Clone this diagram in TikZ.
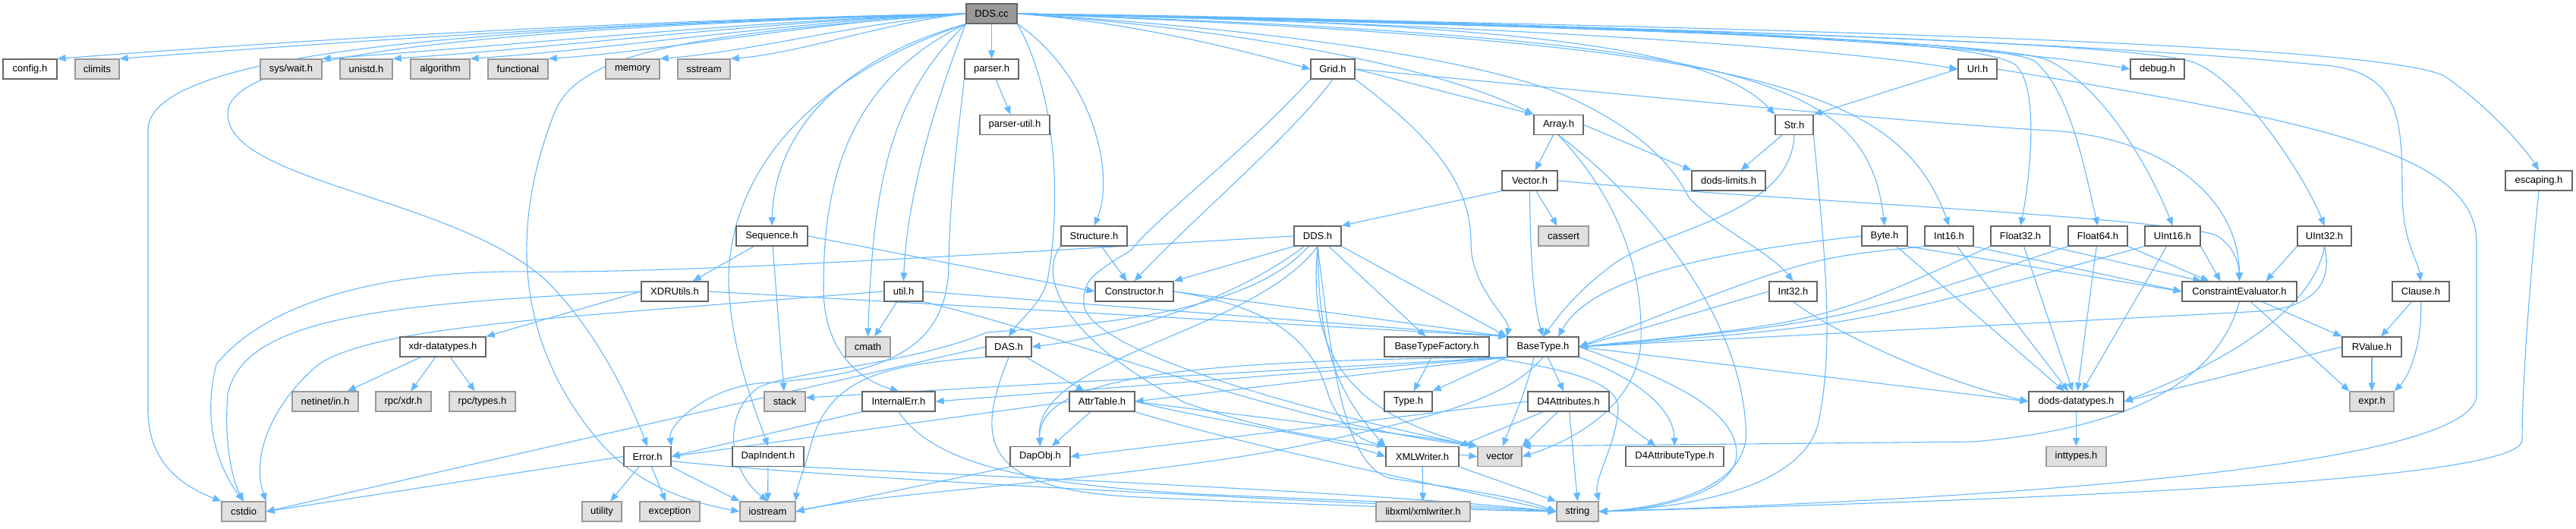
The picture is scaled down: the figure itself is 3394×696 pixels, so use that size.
\documentclass[tikz,border=0pt]{standalone}
\usepackage{fontspec}
\newfontfamily\dfont{Liberation Sans}
\usetikzlibrary{arrows.meta}
\definecolor{edgec}{HTML}{63B8FF}
\definecolor{bordd}{HTML}{666666}
\definecolor{borde}{HTML}{999999}
\definecolor{extfill}{HTML}{E0E0E0}
\definecolor{curfill}{HTML}{999999}
\pgfdeclarelayer{paper}
\pgfdeclarelayer{bg}
\pgfsetlayers{paper,bg,main}
\begin{document}
\begin{tikzpicture}[x=1pt,y=-1pt,
  hdr/.style={draw=bordd,fill=white,line width=1.3pt,minimum height=26pt,inner sep=0pt,font={\dfont\fontsize{13}{15}\selectfont},text=black},
  ext/.style={hdr,draw=borde,fill=extfill},
  cur/.style={hdr,fill=curfill},
  ln/.style={draw=edgec,line width=1.1pt,-{Triangle[length=11pt,width=9pt]}}]
\begin{pgfonlayer}{paper}
\fill[white] (0,0) rectangle (3394,696);
\end{pgfonlayer}
\useasboundingbox (0,0) rectangle (3394,696);
% row 0
\node[cur,minimum width=67pt] (ddscc) at (1306.5,18) {DDS.cc};
% row 1
\node[hdr,minimum width=71pt] (config) at (39.5,91) {config.h};
\node[ext,minimum width=58pt] (climits) at (128,91) {climits};
\node[ext,minimum width=81pt] (syswait) at (383.5,91) {sys/wait.h};
\node[ext,minimum width=69pt] (unistd) at (482.5,91) {unistd.h};
\node[ext,minimum width=78pt] (algorithm) at (580,91) {algorithm};
\node[ext,minimum width=79pt] (functional) at (682.5,91) {functional};
\node[ext,minimum width=71pt] (memory) at (833.5,91) {memory};
\node[ext,minimum width=69pt] (sstream) at (927.5,91) {sstream};
\node[hdr,minimum width=71pt] (parser) at (1306.5,91) {parser.h};
\node[hdr,minimum width=58pt] (grid) at (1756,91) {Grid.h};
\node[hdr,minimum width=51pt] (url) at (2605.5,91) {Url.h};
\node[hdr,minimum width=71pt] (debug) at (2842.5,91) {debug.h};
% row 2
\node[hdr,minimum width=92pt] (parserutil) at (1337,164.5) {parser-util.h};
\node[hdr,minimum width=65pt] (array) at (2053.5,164.5) {Array.h};
\node[hdr,minimum width=50pt] (str) at (2364,164.5) {Str.h};
% row 3
\node[hdr,minimum width=73pt] (vectorh) at (2015.5,238) {Vector.h};
\node[hdr,minimum width=97pt] (limits) at (2277.5,238) {dods-limits.h};
\node[hdr,minimum width=88pt] (escaping) at (3345,238) {escaping.h};
% row 4
\node[hdr,minimum width=94pt] (sequence) at (1017,311) {Sequence.h};
\node[hdr,minimum width=87pt] (structure) at (1441.5,311) {Structure.h};
\node[hdr,minimum width=62pt] (ddsh) at (1736,311) {DDS.h};
\node[ext,minimum width=66pt] (cassert) at (2060,311) {cassert};
\node[hdr,minimum width=60pt] (byte) at (2483,311) {Byte.h};
\node[hdr,minimum width=64pt] (int16) at (2568,311) {Int16.h};
\node[hdr,minimum width=78pt] (float32) at (2662,311) {Float32.h};
\node[hdr,minimum width=78pt] (float64) at (2764,311) {Float64.h};
\node[hdr,minimum width=73pt] (uint16) at (2862.5,311) {UInt16.h};
\node[hdr,minimum width=71pt] (uint32) at (3062.5,311) {UInt32.h};
% row 5
\node[hdr,minimum width=88pt] (xdrutils) at (889,384) {XDRUtils.h};
\node[hdr,minimum width=51pt] (util) at (1190.5,384) {util.h};
\node[hdr,minimum width=103pt] (constructor) at (1494.5,384) {Constructor.h};
\node[hdr,minimum width=63pt] (int32) at (2362.5,384) {Int32.h};
\node[hdr,minimum width=151pt] (ce) at (2950.5,384) {ConstraintEvaluator.h};
\node[hdr,minimum width=75pt] (clause) at (3189.5,384) {Clause.h};
% row 6
\node[hdr,minimum width=113pt] (xdrdt) at (583.5,457) {xdr-datatypes.h};
\node[ext,minimum width=59pt] (cmath) at (1143.5,457) {cmath};
\node[hdr,minimum width=60pt] (dash) at (1329,457) {DAS.h};
\node[hdr,minimum width=138pt] (btf) at (1893,457) {BaseTypeFactory.h};
\node[hdr,minimum width=94pt] (basetype) at (2033,457) {BaseType.h};
\node[hdr,minimum width=78pt] (rvalue) at (3125,457) {RValue.h};
% row 7
\node[ext,minimum width=87pt] (netinet) at (428.5,529) {netinet/in.h};
\node[ext,minimum width=73pt] (rpcxdr) at (531.5,529) {rpc/xdr.h};
\node[ext,minimum width=87pt] (rpctypes) at (635.5,529) {rpc/types.h};
\node[ext,minimum width=54pt] (stack) at (1034,529) {stack};
\node[hdr,minimum width=96pt] (internalerr) at (1184,529) {InternalErr.h};
\node[hdr,minimum width=86pt] (attrtable) at (1452,529) {AttrTable.h};
\node[hdr,minimum width=63pt] (type) at (1855.5,529) {Type.h};
\node[hdr,minimum width=107pt] (d4attrs) at (2066.5,529) {D4Attributes.h};
\node[hdr,minimum width=125pt] (dodsdt) at (2735.5,529) {dods-datatypes.h};
\node[ext,minimum width=58pt] (expr) at (3125,529) {expr.h};
% row 8
\node[hdr,minimum width=62pt] (error) at (853,601.5) {Error.h};
\node[hdr,minimum width=94pt] (dapindent) at (1012,601.5) {DapIndent.h};
\node[hdr,minimum width=79pt] (dapobj) at (1370.5,601.5) {DapObj.h};
\node[hdr,minimum width=96pt] (xmlwriter) at (1874,601.5) {XMLWriter.h};
\node[ext,minimum width=58pt] (vector) at (1976,601.5) {vector};
\node[hdr,minimum width=129pt] (d4attrtype) at (2206.5,601.5) {D4AttributeType.h};
\node[ext,minimum width=79pt] (inttypes) at (2735.5,601.5) {inttypes.h};
% row 9
\node[ext,minimum width=58pt] (cstdio) at (321,674) {cstdio};
\node[ext,minimum width=52pt] (utility) at (793,674) {utility};
\node[ext,minimum width=79pt] (exception) at (882.5,674) {exception};
\node[ext,minimum width=73pt] (iostream) at (1011.5,674) {iostream};
\node[ext,minimum width=124pt] (libxml) at (1875,674) {libxml/xmlwriter.h};
\node[ext,minimum width=55pt] (string) at (2078.5,674) {string};

\begin{pgfonlayer}{bg}
% ---- DDS.cc
\draw[ln] (ddscc.west) .. controls (854,26) and (434,50) .. (config.north east);
\draw[ln] (ddscc.west) .. controls (882,26) and (492,52) .. (climits.north east);
\draw[ln] (ddscc.west) .. controls (976,28) and (679,60) .. (syswait.north east);
\draw[ln] (ddscc.west) .. controls (1008,28) and (744,62) .. (unistd.north east);
\draw[ln] (ddscc.west) .. controls (1044,28) and (815,64) .. (algorithm.north east);
\draw[ln] (ddscc.west) .. controls (1080,28) and (887,66) .. (functional.north east);
\draw[ln] (ddscc.west) .. controls (1132,30) and (990,68) .. (memory.north east);
\draw[ln] (ddscc.west) .. controls (1164,30) and (1055,70) .. (sstream.north east);
\draw[ln] (ddscc) -- (parser);
\draw[ln] (ddscc.east) .. controls (1500,30) and (1650,70) .. (grid.west);
\draw[ln] (ddscc.east) .. controls (1900,30) and (2400,60) .. (url.west);
\draw[ln] (ddscc.east) .. controls (2000,25) and (2600,55) .. (debug.west);
\draw[ln] (ddscc.east) .. controls (1650,40) and (1900,90) .. (array.north west);
\draw[ln] (ddscc.east) .. controls (1950,30) and (2250,55) .. (str.north west);
\draw[ln] (ddscc.east) .. controls (2300,50) and (2460,100) .. (byte.north);
\draw[ln] (ddscc.east) .. controls (2300,55) and (2500,110) .. (int16.north);
\draw[ln] (ddscc.east) .. controls (2200,35) and (2600,50) .. (2655,85) .. controls (2690,115) and (2672,250) .. (float32.north);
\draw[ln] (ddscc.east) .. controls (2250,38) and (2630,55) .. (2680,80) .. controls (2730,120) and (2750,240) .. (float64.north);
\draw[ln] (ddscc.east) .. controls (2300,40) and (2650,58) .. (2700,80) .. controls (2780,120) and (2840,240) .. (uint16.north);
\draw[ln] (ddscc.east) .. controls (2400,40) and (2820,60) .. (2890,82) .. controls (2960,110) and (3040,240) .. (uint32.north);
\draw[ln] (ddscc.east) .. controls (1700,40) and (1950,80) .. (2060,125) .. controls (2150,165) and (2200,210) .. (2225,260) .. controls (2260,300) and (2330,330) .. (int32.north);
\draw[ln] (ddscc.east) .. controls (2500,40) and (2900,70) .. (3050,85) .. controls (3160,90) and (3165,150) .. (3165,250) .. controls (3165,320) and (3185,340) .. (clause.north);
\draw[ln] (ddscc.east) .. controls (2600,40) and (3150,65) .. (3220,100) .. controls (3280,140) and (3330,200) .. (escaping.north);
\draw[ln] (ddscc.west) .. controls (700,35) and (200,60) .. (195,170) -- (195,540) .. controls (195,610) and (240,640) .. (cstdio.north west);
\draw[ln] (ddscc.west) .. controls (550,40) and (300,80) .. (300,150) .. controls (300,240) and (600,260) .. (720,370) .. controls (790,440) and (830,530) .. (error.north);
\draw[ln] (ddscc.west) .. controls (900,45) and (760,70) .. (730,150) .. controls (660,330) and (700,470) .. (780,570) .. controls (830,635) and (900,660) .. (iostream.west);
\draw[ln] (ddscc.south west) .. controls (1100,80) and (1020,180) .. (sequence.north);
\draw[ln] (ddscc.south west) .. controls (1040,110) and (960,250) .. (960,370) .. controls (962,460) and (995,540) .. (dapindent.north);
\draw[ln] (ddscc.south west) .. controls (1110,110) and (1085,250) .. (1085,380) .. controls (1085,460) and (1130,500) .. (internalerr.north);
\draw[ln] (ddscc.south west) .. controls (1170,130) and (1150,250) .. (cmath.north);
\draw[ln] (ddscc.south west) .. controls (1230,140) and (1195,260) .. (util.north);
\draw[ln] (ddscc.south east) .. controls (1390,120) and (1400,260) .. (1380,370) .. controls (1372,400) and (1345,420) .. (dash.north);
\draw[ln] (ddscc.south east) .. controls (1440,100) and (1470,230) .. (structure.north);
% ---- Grid
\draw[ln] (grid.east) -- (array.north west);
\draw[ln] (grid.east) .. controls (2200,130) and (2500,160) .. (2700,172) .. controls (2850,180) and (2950,260) .. (ce.north);
\draw[ln] (grid.south east) .. controls (1900,190) and (1938,250) .. (1938,320) .. controls (1938,380) and (1990,420) .. (basetype.north west);
\draw[ln] (grid.south) .. controls (1700,180) and (1580,280) .. (constructor.north);
\draw[ln] (grid.south west) .. controls (1640,200) and (1520,290) .. (1490,330) .. controls (1440,360) and (1426,370) .. (1428,400) .. controls (1430,470) and (1800,560) .. (vector.north west);
% ---- Array, Str, Url, escaping, parser
\draw[ln] (array) -- (vectorh);
\draw[ln] (array.east) -- (limits.north west);
\draw[ln] (array.south) .. controls (2130,260) and (2165,350) .. (2162,450) .. controls (2158,540) and (2060,585) .. (vector.east);
\draw[ln] (array.south) .. controls (2150,250) and (2290,400) .. (2300,560) .. controls (2310,640) and (2200,668) .. (string.east);
\draw[ln] (str) -- (limits);
\draw[ln] (str.south) .. controls (2360,280) and (2200,300) .. (2130,345) .. controls (2075,385) and (2055,415) .. (basetype.north);
\draw[ln] (str.south east) .. controls (2400,300) and (2420,450) .. (2395,560) .. controls (2370,650) and (2200,670) .. (string.east);
\draw[ln] (url.west) -- (str.north east);
\draw[ln] (url.east) .. controls (3050,160) and (3263,200) .. (3263,320) -- (3263,520) .. controls (3263,610) and (2700,655) .. (string.east);
\draw[ln] (escaping.south) .. controls (3335,350) and (3323,500) .. (3323,580) .. controls (3320,630) and (2800,655) .. (string.east);
\draw[ln] (parser) -- (parserutil);
\draw[ln] (parser.south west) .. controls (1262,180) and (1251,260) .. (1250,350) .. controls (1248,470) and (1150,495) .. (1000,505) .. controls (930,512) and (880,560) .. (error.north east);
% ---- Sequence, Structure
\draw[ln] (sequence) -- (xdrutils);
\draw[ln] (sequence) -- (stack);
\draw[ln] (sequence.east) -- (constructor.west);
\draw[ln] (structure) -- (constructor);
\draw[ln] (structure.south west) .. controls (1370,360) and (1390,440) .. (1560,530) .. controls (1700,580) and (1850,592) .. (vector.west);
% ---- DDS.h
\draw[ln] (ddsh.south west) -- (constructor.north east);
\draw[ln] (ddsh) .. controls (1620,400) and (1460,445) .. (dash.east);
\draw[ln] (ddsh.south) .. controls (1650,440) and (1360,470) .. (dapobj.north);
\draw[ln] (ddsh.west) .. controls (1300,335) and (900,360) .. (700,358) .. controls (500,355) and (350,400) .. (285,480) .. controls (265,560) and (290,620) .. (cstdio.north);
\draw[ln] (ddsh) .. controls (1640,420) and (1400,430) .. (1300,438) .. controls (1200,480) and (1050,488) .. (1000,510) .. controls (950,545) and (960,620) .. (iostream.north);
\draw[ln] (ddsh) -- (btf);
\draw[ln] (ddsh.south) .. controls (1738,420) and (1744,500) .. (xmlwriter.north west);
\draw[ln] (ddsh.south) .. controls (1725,450) and (1760,540) .. (vector.north west);
\draw[ln] (ddsh.south) .. controls (1755,480) and (1770,610) .. (1830,630) .. controls (1930,645) and (2000,655) .. (string.west);
\draw[ln] (ddsh.south east) -- (basetype.north west);
% ---- Vector.h
\draw[ln] (vectorh.south west) -- (ddsh.north east);
\draw[ln] (vectorh) -- (cassert);
\draw[ln] (vectorh.south) .. controls (2016,330) and (2020,400) .. (basetype.north);
\draw[ln] (vectorh.east) .. controls (2300,262) and (2850,285) .. (2920,310) .. controls (2945,325) and (2950,350) .. (ce.north);
% ---- BaseTypeFactory, BaseType
\draw[ln] (btf) -- (type);
\draw[ln] (btf.south east) .. controls (2050,485) and (2135,500) .. (2132,540) .. controls (2128,590) and (2100,630) .. (string.north east);
\draw[ln] (basetype.south west) -- (type.north east);
\draw[ln] ([xshift=-12pt]basetype.south) .. controls (2010,520) and (1990,560) .. ([xshift=4pt]vector.north);
\draw[ln] (basetype) -- (d4attrs);
\draw[ln] (basetype.south east) .. controls (2160,500) and (2205,540) .. (d4attrtype.north);
\draw[ln] (basetype.east) .. controls (2200,500) and (2290,540) .. (2288,600) .. controls (2285,650) and (2180,672) .. (string.east);
\draw[ln] (basetype.east) -- (dodsdt.west);
\draw[ln] (basetype.south west) -- ([yshift=5pt]stack.east);
\draw[ln] (basetype.south west) -- (internalerr.east);
\draw[ln] (basetype.south west) -- (attrtable.east);
\draw[ln] (basetype.south west) .. controls (1600,475) and (1365,490) .. (dapobj.north);
\draw[ln] (basetype.south) .. controls (1990,520) and (1920,545) .. (1700,590) .. controls (1500,630) and (1150,650) .. (iostream.east);
% ---- D4Attributes, XMLWriter
\draw[ln] (d4attrs.west) -- (dapobj.east);
\draw[ln] (d4attrs) -- (xmlwriter.north east);
\draw[ln] (d4attrs) -- (vector.north east);
\draw[ln] (d4attrs) -- (string.north);
\draw[ln] (d4attrs.south east) -- ([xshift=-25pt]d4attrtype.north);
\draw[ln] (xmlwriter) -- (libxml);
\draw[ln] (xmlwriter.south east) -- (string.north west);
% ---- AttrTable, DAS
\draw[ln] (attrtable.west) -- (error.east);
\draw[ln] (attrtable) -- (dapobj);
\draw[ln] (attrtable.east) .. controls (1600,555) and (1750,575) .. (xmlwriter.west);
\draw[ln] (attrtable.east) .. controls (1650,550) and (1850,570) .. (vector.north west);
\draw[ln] (attrtable.south east) .. controls (1650,590) and (1900,640) .. (string.west);
\draw[ln] (dash) -- (attrtable);
\draw[ln] (dash.west) -- (cstdio.east);
\draw[ln] (dash.south west) .. controls (1160,480) and (1095,500) .. (1070,580) .. controls (1060,620) and (1050,640) .. (iostream.north east);
\draw[ln] (dash.south) .. controls (1285,580) and (1290,645) .. (1500,655) .. controls (1800,668) and (1950,672) .. (string.west);
% ---- Error, InternalErr, DapIndent, DapObj
\draw[ln] (error.west) -- (cstdio.east);
\draw[ln] (error) -- (utility);
\draw[ln] (error) -- (exception);
\draw[ln] (error.south east) -- (iostream.north west);
\draw[ln] ([yshift=-6pt]error.east) .. controls (1100,630) and (1600,655) .. (string.west);
\draw[ln] (internalerr.south west) -- (error.east);
\draw[ln] (internalerr.south) .. controls (1230,610) and (1350,640) .. (1600,652) .. controls (1850,662) and (1980,668) .. (string.west);
\draw[ln] (dapindent) -- (iostream);
\draw[ln] (dapindent.south east) .. controls (1350,630) and (1800,648) .. (string.west);
\draw[ln] (dapobj.south west) -- (iostream.east);
% ---- util, XDRUtils, xdr-datatypes, Constructor
\draw[ln] (util) -- (cmath);
\draw[ln] (util.west) -- (860,408) .. controls (650,425) and (480,440) .. (420,480) .. controls (360,530) and (330,600) .. (cstdio.north east);
\draw[ln] (util.east) -- (basetype.north west);
\draw[ln] (util.south east) .. controls (1400,440) and (1700,560) .. (vector.north west);
\draw[ln] (xdrutils.west) -- (xdrdt.north east);
\draw[ln] (xdrutils.west) .. controls (500,400) and (320,420) .. (300,520) .. controls (295,580) and (305,630) .. (cstdio.north);
\draw[ln] (xdrutils.east) -- (basetype.north west);
\draw[ln] (xdrdt) -- (netinet);
\draw[ln] (xdrdt) -- (rpcxdr);
\draw[ln] (xdrdt) -- (rpctypes);
\draw[ln] (constructor.east) -- (basetype.north west);
\draw[ln] (constructor.east) .. controls (1680,405) and (1730,450) .. (1750,520) .. controls (1765,560) and (1790,580) .. (xmlwriter.north west);
% ---- numeric types
\draw[ln] (byte.west) .. controls (2280,330) and (2100,360) .. ([xshift=20pt]basetype.north);
\draw[ln] (byte) -- (dodsdt);
\draw[ln] (byte.south east) -- (ce.west);
\draw[ln] (int16.south west) .. controls (2380,340) .. (basetype.east);
\draw[ln] (int16) -- (dodsdt);
\draw[ln] (int16.south east) -- (ce.west);
\draw[ln] (float32.south west) .. controls (2400,425) .. (basetype.east);
\draw[ln] (float32) -- (dodsdt);
\draw[ln] (float32.south east) -- ([xshift=-50pt]ce.north);
\draw[ln] (float64.south west) .. controls (2420,425) .. (basetype.east);
\draw[ln] (float64) -- (dodsdt);
\draw[ln] (float64.south east) -- ([xshift=-40pt]ce.north);
\draw[ln] (uint16.south west) .. controls (2440,430) .. (basetype.east);
\draw[ln] (uint16) -- (dodsdt);
\draw[ln] (uint16.south east) -- ([xshift=-25pt]ce.north);
\draw[ln] (uint32.south) .. controls (3075,375) and (3045,405) .. (2980,410) .. controls (2700,425) and (2300,445) .. (basetype.east);
\draw[ln] (uint32.south) .. controls (3050,400) and (2950,470) .. (dodsdt.east);
\draw[ln] (uint32.south west) -- ([xshift=35pt]ce.north);
\draw[ln] (int32.west) -- (basetype.east);
\draw[ln] (int32.south) .. controls (2420,440) and (2550,500) .. (dodsdt.west);
% ---- CE, RValue, Clause, dods-datatypes
\draw[ln] ([xshift=30pt]ce.south) -- (rvalue.north west);
\draw[ln] ([xshift=15pt]ce.south) -- (expr.north west);
\draw[ln] (ce.south) .. controls (2930,470) and (2860,560) .. (2600,582) -- (vector.north east);
\draw[ln] (rvalue) -- (expr);
\draw[ln] (rvalue.west) -- (dodsdt.east);
\draw[ln] (clause) -- (rvalue);
\draw[ln] (clause.south) .. controls (3192,450) and (3175,495) .. (expr.north east);
\draw[ln] (dodsdt) -- (inttypes);
\end{pgfonlayer}
\end{tikzpicture}
\end{document}
